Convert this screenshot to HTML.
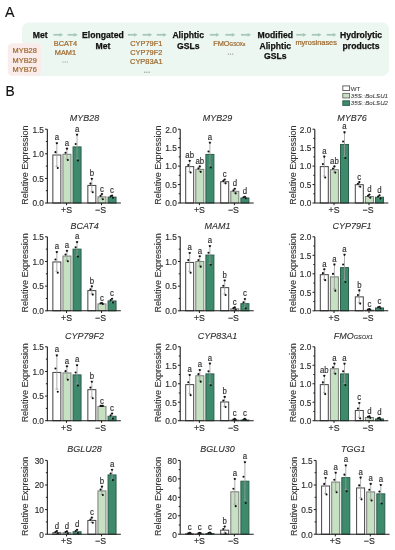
<!DOCTYPE html>
<html><head><meta charset="utf-8"><style>
html,body{margin:0;padding:0;background:#fff;}
body{width:395px;height:550px;overflow:hidden;}
svg{display:block;font-family:"Liberation Sans", sans-serif;will-change:transform;filter:blur(0.3px);}
</style></head><body>
<svg width="395" height="550" viewBox="0 0 395 550">
<text x="5.0" y="17.2" font-size="14.2" fill="#111" stroke="#111" stroke-width="0.15">A</text>
<rect x="22" y="22.5" width="367" height="53.5" rx="7" fill="#ecf7f1"/>
<rect x="7.8" y="43.2" width="33.4" height="32.5" rx="4.5" fill="#faeceb"/>
<text transform="translate(24.7 53) scale(1 1.06)" font-size="7.4" font-weight="normal" font-style="normal" fill="#a06a2e" text-anchor="middle" stroke="#a06a2e" stroke-width="0.22">MYB28</text>
<text transform="translate(24.7 62.7) scale(1 1.06)" font-size="7.4" font-weight="normal" font-style="normal" fill="#a06a2e" text-anchor="middle" stroke="#a06a2e" stroke-width="0.22">MYB29</text>
<text transform="translate(24.7 72.4) scale(1 1.06)" font-size="7.4" font-weight="normal" font-style="normal" fill="#a06a2e" text-anchor="middle" stroke="#a06a2e" stroke-width="0.22">MYB76</text>
<text x="40.2" y="37.9" font-size="8.65" font-weight="bold" font-style="normal" fill="#111" text-anchor="middle" stroke="#111" stroke-width="0.25">Met</text>
<text x="102.9" y="37.9" font-size="8.65" font-weight="bold" font-style="normal" fill="#111" text-anchor="middle" stroke="#111" stroke-width="0.25">Elongated</text>
<text x="102.9" y="48.55" font-size="8.65" font-weight="bold" font-style="normal" fill="#111" text-anchor="middle" stroke="#111" stroke-width="0.25">Met</text>
<text x="188.2" y="37.9" font-size="8.65" font-weight="bold" font-style="normal" fill="#111" text-anchor="middle" stroke="#111" stroke-width="0.25">Aliphtic</text>
<text x="188.2" y="48.55" font-size="8.65" font-weight="bold" font-style="normal" fill="#111" text-anchor="middle" stroke="#111" stroke-width="0.25">GSLs</text>
<text x="275.3" y="37.9" font-size="8.65" font-weight="bold" font-style="normal" fill="#111" text-anchor="middle" stroke="#111" stroke-width="0.25">Modified</text>
<text x="275.3" y="48.55" font-size="8.65" font-weight="bold" font-style="normal" fill="#111" text-anchor="middle" stroke="#111" stroke-width="0.25">Aliphtic</text>
<text x="275.3" y="59.2" font-size="8.65" font-weight="bold" font-style="normal" fill="#111" text-anchor="middle" stroke="#111" stroke-width="0.25">GSLs</text>
<text x="361" y="37.9" font-size="8.65" font-weight="bold" font-style="normal" fill="#111" text-anchor="middle" stroke="#111" stroke-width="0.25">Hydrolytic</text>
<text x="361" y="48.55" font-size="8.65" font-weight="bold" font-style="normal" fill="#111" text-anchor="middle" stroke="#111" stroke-width="0.25">products</text>
<path d="M53.4 34.8 H60.4" stroke="#a6c7b6" stroke-width="1.7"/>
<path d="M59.6 32.9 L63.2 34.8 L59.6 36.7 Z" fill="#a6c7b6"/>
<path d="M67.7 34.8 H75" stroke="#a6c7b6" stroke-width="1.7"/>
<path d="M74.2 32.9 L77.8 34.8 L74.2 36.7 Z" fill="#a6c7b6"/>
<path d="M127.8 34.8 H134.9" stroke="#a6c7b6" stroke-width="1.7"/>
<path d="M134.1 32.9 L137.7 34.8 L134.1 36.7 Z" fill="#a6c7b6"/>
<path d="M142.5 34.8 H149.5" stroke="#a6c7b6" stroke-width="1.7"/>
<path d="M148.7 32.9 L152.3 34.8 L148.7 36.7 Z" fill="#a6c7b6"/>
<path d="M156.7 34.8 H164" stroke="#a6c7b6" stroke-width="1.7"/>
<path d="M163.2 32.9 L166.8 34.8 L163.2 36.7 Z" fill="#a6c7b6"/>
<path d="M209.8 34.8 H216.8" stroke="#a6c7b6" stroke-width="1.7"/>
<path d="M216 32.9 L219.6 34.8 L216 36.7 Z" fill="#a6c7b6"/>
<path d="M225.3 34.8 H232.6" stroke="#a6c7b6" stroke-width="1.7"/>
<path d="M231.8 32.9 L235.4 34.8 L231.8 36.7 Z" fill="#a6c7b6"/>
<path d="M241 34.8 H248.4" stroke="#a6c7b6" stroke-width="1.7"/>
<path d="M247.6 32.9 L251.2 34.8 L247.6 36.7 Z" fill="#a6c7b6"/>
<path d="M296.3 34.8 H303.7" stroke="#a6c7b6" stroke-width="1.7"/>
<path d="M302.9 32.9 L306.5 34.8 L302.9 36.7 Z" fill="#a6c7b6"/>
<path d="M311.8 34.8 H318.8" stroke="#a6c7b6" stroke-width="1.7"/>
<path d="M318 32.9 L321.6 34.8 L318 36.7 Z" fill="#a6c7b6"/>
<path d="M326.7 34.8 H333.8" stroke="#a6c7b6" stroke-width="1.7"/>
<path d="M333 32.9 L336.6 34.8 L333 36.7 Z" fill="#a6c7b6"/>
<text transform="translate(65.4 46) scale(1 1.06)" font-size="7.4" font-weight="normal" font-style="normal" fill="#a06a2e" text-anchor="middle" stroke="#a06a2e" stroke-width="0.22">BCAT4</text>
<text transform="translate(65.4 54.9) scale(1 1.06)" font-size="7.4" font-weight="normal" font-style="normal" fill="#a06a2e" text-anchor="middle" stroke="#a06a2e" stroke-width="0.22">MAM1</text>
<circle cx="62.9" cy="62" r="0.62" fill="#8c8c7a"/>
<circle cx="65.1" cy="62" r="0.62" fill="#8c8c7a"/>
<circle cx="67.3" cy="62" r="0.62" fill="#8c8c7a"/>
<text transform="translate(146.3 46) scale(1 1.06)" font-size="7.4" font-weight="normal" font-style="normal" fill="#a06a2e" text-anchor="middle" stroke="#a06a2e" stroke-width="0.22">CYP79F1</text>
<text transform="translate(146.3 54.75) scale(1 1.06)" font-size="7.4" font-weight="normal" font-style="normal" fill="#a06a2e" text-anchor="middle" stroke="#a06a2e" stroke-width="0.22">CYP79F2</text>
<text transform="translate(146.3 63.5) scale(1 1.06)" font-size="7.4" font-weight="normal" font-style="normal" fill="#a06a2e" text-anchor="middle" stroke="#a06a2e" stroke-width="0.22">CYP83A1</text>
<circle cx="144.7" cy="72.2" r="0.62" fill="#8c8c7a"/>
<circle cx="146.9" cy="72.2" r="0.62" fill="#8c8c7a"/>
<circle cx="149.1" cy="72.2" r="0.62" fill="#8c8c7a"/>
<text transform="translate(213.2 46) scale(1 1.06)" font-size="7.4" fill="#a06a2e" stroke="#a06a2e" stroke-width="0.22">FMO<tspan font-size="4.6" dy="0">GSOXs</tspan></text>
<circle cx="228.3" cy="54.1" r="0.62" fill="#8c8c7a"/>
<circle cx="230.5" cy="54.1" r="0.62" fill="#8c8c7a"/>
<circle cx="232.7" cy="54.1" r="0.62" fill="#8c8c7a"/>
<text transform="translate(316.2 44.9) scale(1 1.06)" font-size="7.4" font-weight="normal" font-style="normal" fill="#a06a2e" text-anchor="middle" stroke="#a06a2e" stroke-width="0.22">myrosinases</text>
<text x="5.4" y="96.2" font-size="13.8" fill="#111" stroke="#111" stroke-width="0.15">B</text>
<rect x="342.8" y="85.9" width="6.8" height="4.6" fill="#ffffff" stroke="#555555" stroke-width="0.9"/>
<text x="350.8" y="90.5" font-size="6.15" font-style="normal" fill="#3a3a3a" stroke="#3a3a3a" stroke-width="0.08">WT</text>
<rect x="342.8" y="93.35" width="6.8" height="4.6" fill="#c6e0c2" stroke="#6a6a6a" stroke-width="0.9"/>
<text x="350.8" y="97.95" font-size="6.15" font-style="italic" fill="#3a3a3a" stroke="#3a3a3a" stroke-width="0.08">35S<tspan fill="#9a9a9a">::</tspan>BoLSU1</text>
<rect x="342.8" y="100.8" width="6.8" height="4.6" fill="#3d8a6c" stroke="#2a5e4a" stroke-width="0.9"/>
<text x="350.8" y="105.4" font-size="6.15" font-style="italic" fill="#3a3a3a" stroke="#3a3a3a" stroke-width="0.08">35S<tspan fill="#9a9a9a">::</tspan>BoLSU2</text>
<g><text transform="translate(28.45 165.1) scale(1 1.02) rotate(-90)" font-size="8.8" font-style="normal" fill="#333" stroke="#333" stroke-width="0.12" text-anchor="middle">Relative Expression</text><text transform="translate(84.55 121.2) scale(1 1.03)" font-size="9.0" font-style="italic" fill="#2c2c2c" stroke="#2c2c2c" stroke-width="0.1" text-anchor="middle">MYB28</text><rect x="52.85" y="154.99" width="8" height="48.01" fill="#ffffff" stroke="#444444" stroke-width="1"/><path d="M56.85 142.68 V166.3 M55.45 142.68 H58.25 M55.45 166.3 H58.25" stroke="#999" stroke-width="0.8"/><circle cx="56.85" cy="143.27" r="1.05" fill="#111"/><circle cx="55.45" cy="152.13" r="1.05" fill="#111"/><circle cx="57.75" cy="168.07" r="1.05" fill="#111"/><text transform="translate(56.85 140.28) scale(1 1.14)" font-size="7.8" font-style="normal" fill="#2e2e2e" stroke="#2e2e2e" stroke-width="0.15" text-anchor="middle">a</text><rect x="62.95" y="154.3" width="8" height="48.7" fill="#c6e0c2" stroke="#7c7c7c" stroke-width="1"/><path d="M66.95 148.39 V159.21 M65.55 148.39 H68.35 M65.55 159.21 H68.35" stroke="#999" stroke-width="0.8"/><circle cx="66.95" cy="148.66" r="1.05" fill="#111"/><circle cx="65.55" cy="152.72" r="1.05" fill="#111"/><circle cx="67.85" cy="160.02" r="1.05" fill="#111"/><text transform="translate(66.95 145.99) scale(1 1.14)" font-size="7.8" font-style="normal" fill="#2e2e2e" stroke="#2e2e2e" stroke-width="0.15" text-anchor="middle">a</text><rect x="73.05" y="146.92" width="8" height="56.08" fill="#3d8a6c" stroke="#2a5f4a" stroke-width="1"/><path d="M77.05 134.12 V158.72 M75.65 134.12 H78.45 M75.65 158.72 H78.45" stroke="#999" stroke-width="0.8"/><circle cx="77.05" cy="134.73" r="1.05" fill="#111"/><circle cx="75.65" cy="143.96" r="1.05" fill="#111"/><circle cx="77.95" cy="160.56" r="1.05" fill="#111"/><text transform="translate(77.05 131.72) scale(1 1.14)" font-size="7.8" font-style="normal" fill="#2e2e2e" stroke="#2e2e2e" stroke-width="0.15" text-anchor="middle">a</text><rect x="87.85" y="185.44" width="8" height="17.56" fill="#ffffff" stroke="#444444" stroke-width="1"/><path d="M91.85 178.55 V191.34 M90.45 178.55 H93.25 M90.45 191.34 H93.25" stroke="#999" stroke-width="0.8"/><circle cx="91.85" cy="178.87" r="1.05" fill="#111"/><circle cx="90.45" cy="183.66" r="1.05" fill="#111"/><circle cx="92.75" cy="192.3" r="1.05" fill="#111"/><text transform="translate(91.85 176.15) scale(1 1.14)" font-size="7.8" font-style="normal" fill="#2e2e2e" stroke="#2e2e2e" stroke-width="0.15" text-anchor="middle">b</text><rect x="97.95" y="196.86" width="8" height="6.14" fill="#c6e0c2" stroke="#7c7c7c" stroke-width="1"/><path d="M101.95 193.9 V198.82 M100.55 193.9 H103.35 M100.55 198.82 H103.35" stroke="#999" stroke-width="0.8"/><circle cx="101.95" cy="194.02" r="1.05" fill="#111"/><circle cx="100.55" cy="195.87" r="1.05" fill="#111"/><circle cx="102.85" cy="199.19" r="1.05" fill="#111"/><text transform="translate(101.95 191.5) scale(1 1.14)" font-size="7.8" font-style="normal" fill="#2e2e2e" stroke="#2e2e2e" stroke-width="0.15" text-anchor="middle">c</text><rect x="108.05" y="197.1" width="8" height="5.9" fill="#3d8a6c" stroke="#2a5f4a" stroke-width="1"/><path d="M112.05 195.62 V197.59 M110.65 195.62 H113.45 M110.65 197.59 H113.45" stroke="#999" stroke-width="0.8"/><circle cx="112.05" cy="195.67" r="1.05" fill="#111"/><circle cx="110.65" cy="196.41" r="1.05" fill="#111"/><circle cx="112.95" cy="197.74" r="1.05" fill="#111"/><text transform="translate(112.05 193.22) scale(1 1.14)" font-size="7.8" font-style="normal" fill="#2e2e2e" stroke="#2e2e2e" stroke-width="0.15" text-anchor="middle">c</text><path d="M47.35 129.2 V203 H120.85" stroke="#1e1e1e" stroke-width="1.1" fill="none"/><path d="M45.05 203 H47.35" stroke="#1e1e1e" stroke-width="1"/><text transform="translate(43.95 206.3) scale(1 1.0)" font-size="8.3" font-style="normal" fill="#2c2c2c" stroke="#2c2c2c" stroke-width="0.15" text-anchor="end">0.0</text><path d="M45.85 190.7 H47.35" stroke="#1e1e1e" stroke-width="1"/><path d="M45.05 178.4 H47.35" stroke="#1e1e1e" stroke-width="1"/><text transform="translate(43.95 181.7) scale(1 1.0)" font-size="8.3" font-style="normal" fill="#2c2c2c" stroke="#2c2c2c" stroke-width="0.15" text-anchor="end">0.5</text><path d="M45.85 166.1 H47.35" stroke="#1e1e1e" stroke-width="1"/><path d="M45.05 153.8 H47.35" stroke="#1e1e1e" stroke-width="1"/><text transform="translate(43.95 157.1) scale(1 1.0)" font-size="8.3" font-style="normal" fill="#2c2c2c" stroke="#2c2c2c" stroke-width="0.15" text-anchor="end">1.0</text><path d="M45.85 141.5 H47.35" stroke="#1e1e1e" stroke-width="1"/><path d="M45.05 129.2 H47.35" stroke="#1e1e1e" stroke-width="1"/><text transform="translate(43.95 132.5) scale(1 1.0)" font-size="8.3" font-style="normal" fill="#2c2c2c" stroke="#2c2c2c" stroke-width="0.15" text-anchor="end">1.5</text><path d="M66.55 203 V205.2" stroke="#1e1e1e" stroke-width="1"/><text transform="translate(66.55 213) scale(1 1.02)" font-size="8.8" font-style="normal" fill="#2c2c2c" stroke="#2c2c2c" stroke-width="0.15" text-anchor="middle">+S</text><path d="M101.55 203 V205.2" stroke="#1e1e1e" stroke-width="1"/><text transform="translate(100.55 213) scale(1 1.02)" font-size="8.8" font-style="normal" fill="#2c2c2c" stroke="#2c2c2c" stroke-width="0.15" text-anchor="middle">−S</text></g>
<g><text transform="translate(160.9 165.1) scale(1 1.02) rotate(-90)" font-size="8.8" font-style="normal" fill="#333" stroke="#333" stroke-width="0.12" text-anchor="middle">Relative Expression</text><text transform="translate(217.4 121.2) scale(1 1.03)" font-size="9.0" font-style="italic" fill="#2c2c2c" stroke="#2c2c2c" stroke-width="0.1" text-anchor="middle">MYB29</text><rect x="185.7" y="166.6" width="8" height="36.4" fill="#ffffff" stroke="#444444" stroke-width="1"/><path d="M189.7 160.56 V171.63 M188.3 160.56 H191.1 M188.3 171.63 H191.1" stroke="#999" stroke-width="0.8"/><circle cx="189.7" cy="160.84" r="1.05" fill="#111"/><circle cx="188.3" cy="164.99" r="1.05" fill="#111"/><circle cx="190.6" cy="172.47" r="1.05" fill="#111"/><text transform="translate(189.7 158.16) scale(1 1.14)" font-size="7.8" font-style="normal" fill="#2e2e2e" stroke="#2e2e2e" stroke-width="0.15" text-anchor="middle">ab</text><rect x="195.8" y="169.37" width="8" height="33.63" fill="#c6e0c2" stroke="#7c7c7c" stroke-width="1"/><path d="M199.8 166.28 V171.45 M198.4 166.28 H201.2 M198.4 171.45 H201.2" stroke="#999" stroke-width="0.8"/><circle cx="199.8" cy="166.41" r="1.05" fill="#111"/><circle cx="198.4" cy="168.35" r="1.05" fill="#111"/><circle cx="200.7" cy="171.84" r="1.05" fill="#111"/><text transform="translate(199.8 163.88) scale(1 1.14)" font-size="7.8" font-style="normal" fill="#2e2e2e" stroke="#2e2e2e" stroke-width="0.15" text-anchor="middle">ab</text><rect x="205.9" y="154.42" width="8" height="48.58" fill="#3d8a6c" stroke="#2a5f4a" stroke-width="1"/><path d="M209.9 142.11 V165.73 M208.5 142.11 H211.3 M208.5 165.73 H211.3" stroke="#999" stroke-width="0.8"/><circle cx="209.9" cy="142.71" r="1.05" fill="#111"/><circle cx="208.5" cy="151.56" r="1.05" fill="#111"/><circle cx="210.8" cy="167.5" r="1.05" fill="#111"/><text transform="translate(209.9 139.71) scale(1 1.14)" font-size="7.8" font-style="normal" fill="#2e2e2e" stroke="#2e2e2e" stroke-width="0.15" text-anchor="middle">a</text><rect x="220.7" y="181.73" width="8" height="21.27" fill="#ffffff" stroke="#444444" stroke-width="1"/><path d="M224.7 179.38 V183.07 M223.3 179.38 H226.1 M223.3 183.07 H226.1" stroke="#999" stroke-width="0.8"/><circle cx="224.7" cy="179.48" r="1.05" fill="#111"/><circle cx="223.3" cy="180.86" r="1.05" fill="#111"/><circle cx="225.6" cy="183.35" r="1.05" fill="#111"/><text transform="translate(224.7 176.98) scale(1 1.14)" font-size="7.8" font-style="normal" fill="#2e2e2e" stroke="#2e2e2e" stroke-width="0.15" text-anchor="middle">c</text><rect x="230.8" y="191.32" width="8" height="11.68" fill="#c6e0c2" stroke="#7c7c7c" stroke-width="1"/><path d="M234.8 188.61 V193.04 M233.4 188.61 H236.2 M233.4 193.04 H236.2" stroke="#999" stroke-width="0.8"/><circle cx="234.8" cy="188.72" r="1.05" fill="#111"/><circle cx="233.4" cy="190.38" r="1.05" fill="#111"/><circle cx="235.7" cy="193.37" r="1.05" fill="#111"/><text transform="translate(234.8 186.21) scale(1 1.14)" font-size="7.8" font-style="normal" fill="#2e2e2e" stroke="#2e2e2e" stroke-width="0.15" text-anchor="middle">d</text><rect x="240.9" y="197.97" width="8" height="5.03" fill="#3d8a6c" stroke="#2a5f4a" stroke-width="1"/><path d="M244.9 196.73 V198.2 M243.5 196.73 H246.3 M243.5 198.2 H246.3" stroke="#999" stroke-width="0.8"/><circle cx="244.9" cy="196.76" r="1.05" fill="#111"/><circle cx="243.5" cy="197.32" r="1.05" fill="#111"/><circle cx="245.8" cy="198.31" r="1.05" fill="#111"/><text transform="translate(244.9 194.33) scale(1 1.14)" font-size="7.8" font-style="normal" fill="#2e2e2e" stroke="#2e2e2e" stroke-width="0.15" text-anchor="middle">d</text><path d="M180.2 129.2 V203 H253.7" stroke="#1e1e1e" stroke-width="1.1" fill="none"/><path d="M177.9 203 H180.2" stroke="#1e1e1e" stroke-width="1"/><text transform="translate(176.8 206.3) scale(1 1.0)" font-size="8.3" font-style="normal" fill="#2c2c2c" stroke="#2c2c2c" stroke-width="0.15" text-anchor="end">0.0</text><path d="M178.7 193.78 H180.2" stroke="#1e1e1e" stroke-width="1"/><path d="M177.9 184.55 H180.2" stroke="#1e1e1e" stroke-width="1"/><text transform="translate(176.8 187.85) scale(1 1.0)" font-size="8.3" font-style="normal" fill="#2c2c2c" stroke="#2c2c2c" stroke-width="0.15" text-anchor="end">0.5</text><path d="M178.7 175.32 H180.2" stroke="#1e1e1e" stroke-width="1"/><path d="M177.9 166.1 H180.2" stroke="#1e1e1e" stroke-width="1"/><text transform="translate(176.8 169.4) scale(1 1.0)" font-size="8.3" font-style="normal" fill="#2c2c2c" stroke="#2c2c2c" stroke-width="0.15" text-anchor="end">1.0</text><path d="M178.7 156.88 H180.2" stroke="#1e1e1e" stroke-width="1"/><path d="M177.9 147.65 H180.2" stroke="#1e1e1e" stroke-width="1"/><text transform="translate(176.8 150.95) scale(1 1.0)" font-size="8.3" font-style="normal" fill="#2c2c2c" stroke="#2c2c2c" stroke-width="0.15" text-anchor="end">1.5</text><path d="M178.7 138.42 H180.2" stroke="#1e1e1e" stroke-width="1"/><path d="M177.9 129.2 H180.2" stroke="#1e1e1e" stroke-width="1"/><text transform="translate(176.8 132.5) scale(1 1.0)" font-size="8.3" font-style="normal" fill="#2c2c2c" stroke="#2c2c2c" stroke-width="0.15" text-anchor="end">2.0</text><path d="M199.4 203 V205.2" stroke="#1e1e1e" stroke-width="1"/><text transform="translate(199.4 213) scale(1 1.02)" font-size="8.8" font-style="normal" fill="#2c2c2c" stroke="#2c2c2c" stroke-width="0.15" text-anchor="middle">+S</text><path d="M234.4 203 V205.2" stroke="#1e1e1e" stroke-width="1"/><text transform="translate(233.4 213) scale(1 1.02)" font-size="8.8" font-style="normal" fill="#2c2c2c" stroke="#2c2c2c" stroke-width="0.15" text-anchor="middle">−S</text></g>
<g><text transform="translate(295.5 165.1) scale(1 1.02) rotate(-90)" font-size="8.8" font-style="normal" fill="#333" stroke="#333" stroke-width="0.12" text-anchor="middle">Relative Expression</text><text transform="translate(352 121.2) scale(1 1.03)" font-size="9.0" font-style="italic" fill="#2c2c2c" stroke="#2c2c2c" stroke-width="0.1" text-anchor="middle">MYB76</text><rect x="320.3" y="166.6" width="8" height="36.4" fill="#ffffff" stroke="#444444" stroke-width="1"/><path d="M324.3 156.14 V176.06 M322.9 156.14 H325.7 M322.9 176.06 H325.7" stroke="#999" stroke-width="0.8"/><circle cx="324.3" cy="156.64" r="1.05" fill="#111"/><circle cx="322.9" cy="164.11" r="1.05" fill="#111"/><circle cx="325.2" cy="177.56" r="1.05" fill="#111"/><text transform="translate(324.3 153.74) scale(1 1.14)" font-size="7.8" font-style="normal" fill="#2e2e2e" stroke="#2e2e2e" stroke-width="0.15" text-anchor="middle">a</text><rect x="330.4" y="169.7" width="8" height="33.3" fill="#c6e0c2" stroke="#7c7c7c" stroke-width="1"/><path d="M334.4 166.25 V172.15 M333 166.25 H335.8 M333 172.15 H335.8" stroke="#999" stroke-width="0.8"/><circle cx="334.4" cy="166.4" r="1.05" fill="#111"/><circle cx="333" cy="168.61" r="1.05" fill="#111"/><circle cx="335.3" cy="172.59" r="1.05" fill="#111"/><text transform="translate(334.4 163.85) scale(1 1.14)" font-size="7.8" font-style="normal" fill="#2e2e2e" stroke="#2e2e2e" stroke-width="0.15" text-anchor="middle">ab</text><rect x="340.5" y="144.46" width="8" height="58.54" fill="#3d8a6c" stroke="#2a5f4a" stroke-width="1"/><path d="M344.5 131.78 V156.14 M343.1 131.78 H345.9 M343.1 156.14 H345.9" stroke="#999" stroke-width="0.8"/><circle cx="344.5" cy="132.39" r="1.05" fill="#111"/><circle cx="343.1" cy="141.52" r="1.05" fill="#111"/><circle cx="345.4" cy="157.96" r="1.05" fill="#111"/><text transform="translate(344.5 129.38) scale(1 1.14)" font-size="7.8" font-style="normal" fill="#2e2e2e" stroke="#2e2e2e" stroke-width="0.15" text-anchor="middle">a</text><rect x="355.3" y="184.68" width="8" height="18.32" fill="#ffffff" stroke="#444444" stroke-width="1"/><path d="M359.3 181.97 V186.39 M357.9 181.97 H360.7 M357.9 186.39 H360.7" stroke="#999" stroke-width="0.8"/><circle cx="359.3" cy="182.08" r="1.05" fill="#111"/><circle cx="357.9" cy="183.74" r="1.05" fill="#111"/><circle cx="360.2" cy="186.73" r="1.05" fill="#111"/><text transform="translate(359.3 179.57) scale(1 1.14)" font-size="7.8" font-style="normal" fill="#2e2e2e" stroke="#2e2e2e" stroke-width="0.15" text-anchor="middle">c</text><rect x="365.4" y="196.49" width="8" height="6.51" fill="#c6e0c2" stroke="#7c7c7c" stroke-width="1"/><path d="M369.4 194.51 V197.47 M368 194.51 H370.8 M368 197.47 H370.8" stroke="#999" stroke-width="0.8"/><circle cx="369.4" cy="194.59" r="1.05" fill="#111"/><circle cx="368" cy="195.69" r="1.05" fill="#111"/><circle cx="370.3" cy="197.69" r="1.05" fill="#111"/><text transform="translate(369.4 192.11) scale(1 1.14)" font-size="7.8" font-style="normal" fill="#2e2e2e" stroke="#2e2e2e" stroke-width="0.15" text-anchor="middle">d</text><rect x="375.5" y="197.23" width="8" height="5.77" fill="#3d8a6c" stroke="#2a5f4a" stroke-width="1"/><path d="M379.5 195.25 V198.2 M378.1 195.25 H380.9 M378.1 198.2 H380.9" stroke="#999" stroke-width="0.8"/><circle cx="379.5" cy="195.32" r="1.05" fill="#111"/><circle cx="378.1" cy="196.43" r="1.05" fill="#111"/><circle cx="380.4" cy="198.42" r="1.05" fill="#111"/><text transform="translate(379.5 192.85) scale(1 1.14)" font-size="7.8" font-style="normal" fill="#2e2e2e" stroke="#2e2e2e" stroke-width="0.15" text-anchor="middle">d</text><path d="M314.8 129.2 V203 H388.3" stroke="#1e1e1e" stroke-width="1.1" fill="none"/><path d="M312.5 203 H314.8" stroke="#1e1e1e" stroke-width="1"/><text transform="translate(311.4 206.3) scale(1 1.0)" font-size="8.3" font-style="normal" fill="#2c2c2c" stroke="#2c2c2c" stroke-width="0.15" text-anchor="end">0.0</text><path d="M313.3 193.78 H314.8" stroke="#1e1e1e" stroke-width="1"/><path d="M312.5 184.55 H314.8" stroke="#1e1e1e" stroke-width="1"/><text transform="translate(311.4 187.85) scale(1 1.0)" font-size="8.3" font-style="normal" fill="#2c2c2c" stroke="#2c2c2c" stroke-width="0.15" text-anchor="end">0.5</text><path d="M313.3 175.32 H314.8" stroke="#1e1e1e" stroke-width="1"/><path d="M312.5 166.1 H314.8" stroke="#1e1e1e" stroke-width="1"/><text transform="translate(311.4 169.4) scale(1 1.0)" font-size="8.3" font-style="normal" fill="#2c2c2c" stroke="#2c2c2c" stroke-width="0.15" text-anchor="end">1.0</text><path d="M313.3 156.88 H314.8" stroke="#1e1e1e" stroke-width="1"/><path d="M312.5 147.65 H314.8" stroke="#1e1e1e" stroke-width="1"/><text transform="translate(311.4 150.95) scale(1 1.0)" font-size="8.3" font-style="normal" fill="#2c2c2c" stroke="#2c2c2c" stroke-width="0.15" text-anchor="end">1.5</text><path d="M313.3 138.42 H314.8" stroke="#1e1e1e" stroke-width="1"/><path d="M312.5 129.2 H314.8" stroke="#1e1e1e" stroke-width="1"/><text transform="translate(311.4 132.5) scale(1 1.0)" font-size="8.3" font-style="normal" fill="#2c2c2c" stroke="#2c2c2c" stroke-width="0.15" text-anchor="end">2.0</text><path d="M334 203 V205.2" stroke="#1e1e1e" stroke-width="1"/><text transform="translate(334 213) scale(1 1.02)" font-size="8.8" font-style="normal" fill="#2c2c2c" stroke="#2c2c2c" stroke-width="0.15" text-anchor="middle">+S</text><path d="M369 203 V205.2" stroke="#1e1e1e" stroke-width="1"/><text transform="translate(368 213) scale(1 1.02)" font-size="8.8" font-style="normal" fill="#2c2c2c" stroke="#2c2c2c" stroke-width="0.15" text-anchor="middle">−S</text></g>
<g><text transform="translate(28.45 272.8) scale(1 1.02) rotate(-90)" font-size="8.8" font-style="normal" fill="#333" stroke="#333" stroke-width="0.12" text-anchor="middle">Relative Expression</text><text transform="translate(84.55 228.8) scale(1 1.03)" font-size="9.0" font-style="italic" fill="#2c2c2c" stroke="#2c2c2c" stroke-width="0.1" text-anchor="middle">BCAT4</text><rect x="52.85" y="261.97" width="8" height="48.83" fill="#ffffff" stroke="#444444" stroke-width="1"/><path d="M56.85 251.6 V271.33 M55.45 251.6 H58.25 M55.45 271.33 H58.25" stroke="#999" stroke-width="0.8"/><circle cx="56.85" cy="252.09" r="1.05" fill="#111"/><circle cx="55.45" cy="259.49" r="1.05" fill="#111"/><circle cx="57.75" cy="272.81" r="1.05" fill="#111"/><text transform="translate(56.85 249.2) scale(1 1.14)" font-size="7.8" font-style="normal" fill="#2e2e2e" stroke="#2e2e2e" stroke-width="0.15" text-anchor="middle">a</text><rect x="62.95" y="256.05" width="8" height="54.75" fill="#c6e0c2" stroke="#7c7c7c" stroke-width="1"/><path d="M66.95 250.61 V260.48 M65.55 250.61 H68.35 M65.55 260.48 H68.35" stroke="#999" stroke-width="0.8"/><circle cx="66.95" cy="250.86" r="1.05" fill="#111"/><circle cx="65.55" cy="254.56" r="1.05" fill="#111"/><circle cx="67.85" cy="261.22" r="1.05" fill="#111"/><text transform="translate(66.95 248.21) scale(1 1.14)" font-size="7.8" font-style="normal" fill="#2e2e2e" stroke="#2e2e2e" stroke-width="0.15" text-anchor="middle">a</text><rect x="73.05" y="249.14" width="8" height="61.66" fill="#3d8a6c" stroke="#2a5f4a" stroke-width="1"/><path d="M77.05 241.73 V255.55 M75.65 241.73 H78.45 M75.65 255.55 H78.45" stroke="#999" stroke-width="0.8"/><circle cx="77.05" cy="242.08" r="1.05" fill="#111"/><circle cx="75.65" cy="247.26" r="1.05" fill="#111"/><circle cx="77.95" cy="256.58" r="1.05" fill="#111"/><text transform="translate(77.05 239.33) scale(1 1.14)" font-size="7.8" font-style="normal" fill="#2e2e2e" stroke="#2e2e2e" stroke-width="0.15" text-anchor="middle">a</text><rect x="87.85" y="290.58" width="8" height="20.22" fill="#ffffff" stroke="#444444" stroke-width="1"/><path d="M91.85 286.13 V294.03 M90.45 286.13 H93.25 M90.45 294.03 H93.25" stroke="#999" stroke-width="0.8"/><circle cx="91.85" cy="286.33" r="1.05" fill="#111"/><circle cx="90.45" cy="289.29" r="1.05" fill="#111"/><circle cx="92.75" cy="294.62" r="1.05" fill="#111"/><text transform="translate(91.85 283.73) scale(1 1.14)" font-size="7.8" font-style="normal" fill="#2e2e2e" stroke="#2e2e2e" stroke-width="0.15" text-anchor="middle">b</text><rect x="97.95" y="303.9" width="8" height="6.9" fill="#c6e0c2" stroke="#7c7c7c" stroke-width="1"/><path d="M101.95 302.91 V303.89 M100.55 302.91 H103.35 M100.55 303.89 H103.35" stroke="#999" stroke-width="0.8"/><circle cx="101.95" cy="302.93" r="1.05" fill="#111"/><circle cx="100.55" cy="303.3" r="1.05" fill="#111"/><circle cx="102.85" cy="303.97" r="1.05" fill="#111"/><text transform="translate(101.95 300.51) scale(1 1.14)" font-size="7.8" font-style="normal" fill="#2e2e2e" stroke="#2e2e2e" stroke-width="0.15" text-anchor="middle">c</text><rect x="108.05" y="300.94" width="8" height="9.86" fill="#3d8a6c" stroke="#2a5f4a" stroke-width="1"/><path d="M112.05 298.71 V302.17 M110.65 298.71 H113.45 M110.65 302.17 H113.45" stroke="#999" stroke-width="0.8"/><circle cx="112.05" cy="298.8" r="1.05" fill="#111"/><circle cx="110.65" cy="300.09" r="1.05" fill="#111"/><circle cx="112.95" cy="302.43" r="1.05" fill="#111"/><text transform="translate(112.05 296.31) scale(1 1.14)" font-size="7.8" font-style="normal" fill="#2e2e2e" stroke="#2e2e2e" stroke-width="0.15" text-anchor="middle">c</text><path d="M47.35 236.8 V310.8 H120.85" stroke="#1e1e1e" stroke-width="1.1" fill="none"/><path d="M45.05 310.8 H47.35" stroke="#1e1e1e" stroke-width="1"/><text transform="translate(43.95 314.1) scale(1 1.0)" font-size="8.3" font-style="normal" fill="#2c2c2c" stroke="#2c2c2c" stroke-width="0.15" text-anchor="end">0.0</text><path d="M45.85 298.47 H47.35" stroke="#1e1e1e" stroke-width="1"/><path d="M45.05 286.13 H47.35" stroke="#1e1e1e" stroke-width="1"/><text transform="translate(43.95 289.43) scale(1 1.0)" font-size="8.3" font-style="normal" fill="#2c2c2c" stroke="#2c2c2c" stroke-width="0.15" text-anchor="end">0.5</text><path d="M45.85 273.8 H47.35" stroke="#1e1e1e" stroke-width="1"/><path d="M45.05 261.47 H47.35" stroke="#1e1e1e" stroke-width="1"/><text transform="translate(43.95 264.77) scale(1 1.0)" font-size="8.3" font-style="normal" fill="#2c2c2c" stroke="#2c2c2c" stroke-width="0.15" text-anchor="end">1.0</text><path d="M45.85 249.13 H47.35" stroke="#1e1e1e" stroke-width="1"/><path d="M45.05 236.8 H47.35" stroke="#1e1e1e" stroke-width="1"/><text transform="translate(43.95 240.1) scale(1 1.0)" font-size="8.3" font-style="normal" fill="#2c2c2c" stroke="#2c2c2c" stroke-width="0.15" text-anchor="end">1.5</text><path d="M66.55 310.8 V313" stroke="#1e1e1e" stroke-width="1"/><text transform="translate(66.55 320.8) scale(1 1.02)" font-size="8.8" font-style="normal" fill="#2c2c2c" stroke="#2c2c2c" stroke-width="0.15" text-anchor="middle">+S</text><path d="M101.55 310.8 V313" stroke="#1e1e1e" stroke-width="1"/><text transform="translate(100.55 320.8) scale(1 1.02)" font-size="8.8" font-style="normal" fill="#2c2c2c" stroke="#2c2c2c" stroke-width="0.15" text-anchor="middle">−S</text></g>
<g><text transform="translate(160.9 272.8) scale(1 1.02) rotate(-90)" font-size="8.8" font-style="normal" fill="#333" stroke="#333" stroke-width="0.12" text-anchor="middle">Relative Expression</text><text transform="translate(217.4 228.8) scale(1 1.03)" font-size="9.0" font-style="italic" fill="#2c2c2c" stroke="#2c2c2c" stroke-width="0.1" text-anchor="middle">MAM1</text><rect x="185.7" y="262.46" width="8" height="48.34" fill="#ffffff" stroke="#444444" stroke-width="1"/><path d="M189.7 252.59 V271.33 M188.3 252.59 H191.1 M188.3 271.33 H191.1" stroke="#999" stroke-width="0.8"/><circle cx="189.7" cy="253.06" r="1.05" fill="#111"/><circle cx="188.3" cy="260.09" r="1.05" fill="#111"/><circle cx="190.6" cy="272.74" r="1.05" fill="#111"/><text transform="translate(189.7 250.19) scale(1 1.14)" font-size="7.8" font-style="normal" fill="#2e2e2e" stroke="#2e2e2e" stroke-width="0.15" text-anchor="middle">a</text><rect x="195.8" y="261.47" width="8" height="49.33" fill="#c6e0c2" stroke="#7c7c7c" stroke-width="1"/><path d="M199.8 256.04 V265.91 M198.4 256.04 H201.2 M198.4 265.91 H201.2" stroke="#999" stroke-width="0.8"/><circle cx="199.8" cy="256.29" r="1.05" fill="#111"/><circle cx="198.4" cy="259.99" r="1.05" fill="#111"/><circle cx="200.7" cy="266.65" r="1.05" fill="#111"/><text transform="translate(199.8 253.64) scale(1 1.14)" font-size="7.8" font-style="normal" fill="#2e2e2e" stroke="#2e2e2e" stroke-width="0.15" text-anchor="middle">a</text><rect x="205.9" y="255.06" width="8" height="55.74" fill="#3d8a6c" stroke="#2a5f4a" stroke-width="1"/><path d="M209.9 245.68 V263.44 M208.5 245.68 H211.3 M208.5 263.44 H211.3" stroke="#999" stroke-width="0.8"/><circle cx="209.9" cy="246.12" r="1.05" fill="#111"/><circle cx="208.5" cy="252.78" r="1.05" fill="#111"/><circle cx="210.8" cy="264.77" r="1.05" fill="#111"/><text transform="translate(209.9 243.28) scale(1 1.14)" font-size="7.8" font-style="normal" fill="#2e2e2e" stroke="#2e2e2e" stroke-width="0.15" text-anchor="middle">a</text><rect x="220.7" y="287.62" width="8" height="23.18" fill="#ffffff" stroke="#444444" stroke-width="1"/><path d="M224.7 280.21 V294.03 M223.3 280.21 H226.1 M223.3 294.03 H226.1" stroke="#999" stroke-width="0.8"/><circle cx="224.7" cy="280.56" r="1.05" fill="#111"/><circle cx="223.3" cy="285.74" r="1.05" fill="#111"/><circle cx="225.6" cy="295.06" r="1.05" fill="#111"/><text transform="translate(224.7 277.81) scale(1 1.14)" font-size="7.8" font-style="normal" fill="#2e2e2e" stroke="#2e2e2e" stroke-width="0.15" text-anchor="middle">b</text><rect x="230.8" y="308.83" width="8" height="1.97" fill="#c6e0c2" stroke="#7c7c7c" stroke-width="1"/><path d="M234.8 307.35 V309.32 M233.4 307.35 H236.2 M233.4 309.32 H236.2" stroke="#999" stroke-width="0.8"/><circle cx="234.8" cy="307.4" r="1.05" fill="#111"/><circle cx="233.4" cy="308.14" r="1.05" fill="#111"/><circle cx="235.7" cy="309.47" r="1.05" fill="#111"/><text transform="translate(234.8 304.95) scale(1 1.14)" font-size="7.8" font-style="normal" fill="#2e2e2e" stroke="#2e2e2e" stroke-width="0.15" text-anchor="middle">c</text><rect x="240.9" y="303.65" width="8" height="7.15" fill="#3d8a6c" stroke="#2a5f4a" stroke-width="1"/><path d="M244.9 298.71 V307.59 M243.5 298.71 H246.3 M243.5 307.59 H246.3" stroke="#999" stroke-width="0.8"/><circle cx="244.9" cy="298.94" r="1.05" fill="#111"/><circle cx="243.5" cy="302.27" r="1.05" fill="#111"/><circle cx="245.8" cy="308.26" r="1.05" fill="#111"/><text transform="translate(244.9 296.31) scale(1 1.14)" font-size="7.8" font-style="normal" fill="#2e2e2e" stroke="#2e2e2e" stroke-width="0.15" text-anchor="middle">c</text><path d="M180.2 236.8 V310.8 H253.7" stroke="#1e1e1e" stroke-width="1.1" fill="none"/><path d="M177.9 310.8 H180.2" stroke="#1e1e1e" stroke-width="1"/><text transform="translate(176.8 314.1) scale(1 1.0)" font-size="8.3" font-style="normal" fill="#2c2c2c" stroke="#2c2c2c" stroke-width="0.15" text-anchor="end">0.0</text><path d="M178.7 298.47 H180.2" stroke="#1e1e1e" stroke-width="1"/><path d="M177.9 286.13 H180.2" stroke="#1e1e1e" stroke-width="1"/><text transform="translate(176.8 289.43) scale(1 1.0)" font-size="8.3" font-style="normal" fill="#2c2c2c" stroke="#2c2c2c" stroke-width="0.15" text-anchor="end">0.5</text><path d="M178.7 273.8 H180.2" stroke="#1e1e1e" stroke-width="1"/><path d="M177.9 261.47 H180.2" stroke="#1e1e1e" stroke-width="1"/><text transform="translate(176.8 264.77) scale(1 1.0)" font-size="8.3" font-style="normal" fill="#2c2c2c" stroke="#2c2c2c" stroke-width="0.15" text-anchor="end">1.0</text><path d="M178.7 249.13 H180.2" stroke="#1e1e1e" stroke-width="1"/><path d="M177.9 236.8 H180.2" stroke="#1e1e1e" stroke-width="1"/><text transform="translate(176.8 240.1) scale(1 1.0)" font-size="8.3" font-style="normal" fill="#2c2c2c" stroke="#2c2c2c" stroke-width="0.15" text-anchor="end">1.5</text><path d="M199.4 310.8 V313" stroke="#1e1e1e" stroke-width="1"/><text transform="translate(199.4 320.8) scale(1 1.02)" font-size="8.8" font-style="normal" fill="#2c2c2c" stroke="#2c2c2c" stroke-width="0.15" text-anchor="middle">+S</text><path d="M234.4 310.8 V313" stroke="#1e1e1e" stroke-width="1"/><text transform="translate(233.4 320.8) scale(1 1.02)" font-size="8.8" font-style="normal" fill="#2c2c2c" stroke="#2c2c2c" stroke-width="0.15" text-anchor="middle">−S</text></g>
<g><text transform="translate(295.5 272.8) scale(1 1.02) rotate(-90)" font-size="8.8" font-style="normal" fill="#333" stroke="#333" stroke-width="0.12" text-anchor="middle">Relative Expression</text><text transform="translate(352 228.8) scale(1 1.03)" font-size="9.0" font-style="italic" fill="#2c2c2c" stroke="#2c2c2c" stroke-width="0.1" text-anchor="middle">CYP79F1</text><rect x="320.3" y="274.67" width="8" height="36.13" fill="#ffffff" stroke="#444444" stroke-width="1"/><path d="M324.3 268.99 V279.35 M322.9 268.99 H325.7 M322.9 279.35 H325.7" stroke="#999" stroke-width="0.8"/><circle cx="324.3" cy="269.25" r="1.05" fill="#111"/><circle cx="322.9" cy="273.13" r="1.05" fill="#111"/><circle cx="325.2" cy="280.13" r="1.05" fill="#111"/><text transform="translate(324.3 266.59) scale(1 1.14)" font-size="7.8" font-style="normal" fill="#2e2e2e" stroke="#2e2e2e" stroke-width="0.15" text-anchor="middle">a</text><rect x="330.4" y="276.89" width="8" height="33.91" fill="#c6e0c2" stroke="#7c7c7c" stroke-width="1"/><path d="M334.4 264 V288.79 M333 264 H335.8 M333 288.79 H335.8" stroke="#999" stroke-width="0.8"/><circle cx="334.4" cy="264.61" r="1.05" fill="#111"/><circle cx="333" cy="273.91" r="1.05" fill="#111"/><circle cx="335.3" cy="290.64" r="1.05" fill="#111"/><text transform="translate(334.4 261.6) scale(1 1.14)" font-size="7.8" font-style="normal" fill="#2e2e2e" stroke="#2e2e2e" stroke-width="0.15" text-anchor="middle">a</text><rect x="340.5" y="267.64" width="8" height="43.16" fill="#3d8a6c" stroke="#2a5f4a" stroke-width="1"/><path d="M344.5 254.19 V280.09 M343.1 254.19 H345.9 M343.1 280.09 H345.9" stroke="#999" stroke-width="0.8"/><circle cx="344.5" cy="254.84" r="1.05" fill="#111"/><circle cx="343.1" cy="264.55" r="1.05" fill="#111"/><circle cx="345.4" cy="282.03" r="1.05" fill="#111"/><text transform="translate(344.5 251.79) scale(1 1.14)" font-size="7.8" font-style="normal" fill="#2e2e2e" stroke="#2e2e2e" stroke-width="0.15" text-anchor="middle">a</text><rect x="355.3" y="296.87" width="8" height="13.93" fill="#ffffff" stroke="#444444" stroke-width="1"/><path d="M359.3 290.08 V302.66 M357.9 290.08 H360.7 M357.9 302.66 H360.7" stroke="#999" stroke-width="0.8"/><circle cx="359.3" cy="290.39" r="1.05" fill="#111"/><circle cx="357.9" cy="295.11" r="1.05" fill="#111"/><circle cx="360.2" cy="303.6" r="1.05" fill="#111"/><text transform="translate(359.3 287.68) scale(1 1.14)" font-size="7.8" font-style="normal" fill="#2e2e2e" stroke="#2e2e2e" stroke-width="0.15" text-anchor="middle">b</text><rect x="365.4" y="310.19" width="8" height="0.61" fill="#c6e0c2" stroke="#7c7c7c" stroke-width="1"/><path d="M369.4 308.95 V310.43 M368 308.95 H370.8 M368 310.43 H370.8" stroke="#999" stroke-width="0.8"/><circle cx="369.4" cy="308.99" r="1.05" fill="#111"/><circle cx="368" cy="309.54" r="1.05" fill="#111"/><circle cx="370.3" cy="309.8" r="1.05" fill="#111"/><text transform="translate(369.4 306.55) scale(1 1.14)" font-size="7.8" font-style="normal" fill="#2e2e2e" stroke="#2e2e2e" stroke-width="0.15" text-anchor="middle">c</text><rect x="375.5" y="307.97" width="8" height="2.83" fill="#3d8a6c" stroke="#2a5f4a" stroke-width="1"/><path d="M379.5 306.73 V308.21 M378.1 306.73 H380.9 M378.1 308.21 H380.9" stroke="#999" stroke-width="0.8"/><circle cx="379.5" cy="306.77" r="1.05" fill="#111"/><circle cx="378.1" cy="307.32" r="1.05" fill="#111"/><circle cx="380.4" cy="308.32" r="1.05" fill="#111"/><text transform="translate(379.5 304.33) scale(1 1.14)" font-size="7.8" font-style="normal" fill="#2e2e2e" stroke="#2e2e2e" stroke-width="0.15" text-anchor="middle">c</text><path d="M314.8 236.8 V310.8 H388.3" stroke="#1e1e1e" stroke-width="1.1" fill="none"/><path d="M312.5 310.8 H314.8" stroke="#1e1e1e" stroke-width="1"/><text transform="translate(311.4 314.1) scale(1 1.0)" font-size="8.3" font-style="normal" fill="#2c2c2c" stroke="#2c2c2c" stroke-width="0.15" text-anchor="end">0.0</text><path d="M313.3 301.55 H314.8" stroke="#1e1e1e" stroke-width="1"/><path d="M312.5 292.3 H314.8" stroke="#1e1e1e" stroke-width="1"/><text transform="translate(311.4 295.6) scale(1 1.0)" font-size="8.3" font-style="normal" fill="#2c2c2c" stroke="#2c2c2c" stroke-width="0.15" text-anchor="end">0.5</text><path d="M313.3 283.05 H314.8" stroke="#1e1e1e" stroke-width="1"/><path d="M312.5 273.8 H314.8" stroke="#1e1e1e" stroke-width="1"/><text transform="translate(311.4 277.1) scale(1 1.0)" font-size="8.3" font-style="normal" fill="#2c2c2c" stroke="#2c2c2c" stroke-width="0.15" text-anchor="end">1.0</text><path d="M313.3 264.55 H314.8" stroke="#1e1e1e" stroke-width="1"/><path d="M312.5 255.3 H314.8" stroke="#1e1e1e" stroke-width="1"/><text transform="translate(311.4 258.6) scale(1 1.0)" font-size="8.3" font-style="normal" fill="#2c2c2c" stroke="#2c2c2c" stroke-width="0.15" text-anchor="end">1.5</text><path d="M313.3 246.05 H314.8" stroke="#1e1e1e" stroke-width="1"/><path d="M312.5 236.8 H314.8" stroke="#1e1e1e" stroke-width="1"/><text transform="translate(311.4 240.1) scale(1 1.0)" font-size="8.3" font-style="normal" fill="#2c2c2c" stroke="#2c2c2c" stroke-width="0.15" text-anchor="end">2.0</text><path d="M334 310.8 V313" stroke="#1e1e1e" stroke-width="1"/><text transform="translate(334 320.8) scale(1 1.02)" font-size="8.8" font-style="normal" fill="#2c2c2c" stroke="#2c2c2c" stroke-width="0.15" text-anchor="middle">+S</text><path d="M369 310.8 V313" stroke="#1e1e1e" stroke-width="1"/><text transform="translate(368 320.8) scale(1 1.02)" font-size="8.8" font-style="normal" fill="#2c2c2c" stroke="#2c2c2c" stroke-width="0.15" text-anchor="middle">−S</text></g>
<g><text transform="translate(28.45 382.75) scale(1 1.02) rotate(-90)" font-size="8.8" font-style="normal" fill="#333" stroke="#333" stroke-width="0.12" text-anchor="middle">Relative Expression</text><text transform="translate(84.55 338.8) scale(1 1.03)" font-size="9.0" font-style="italic" fill="#2c2c2c" stroke="#2c2c2c" stroke-width="0.1" text-anchor="middle">CYP79F2</text><rect x="52.85" y="372.43" width="8" height="48.27" fill="#ffffff" stroke="#444444" stroke-width="1"/><path d="M56.85 354.68 V389.17 M55.45 354.68 H58.25 M55.45 389.17 H58.25" stroke="#999" stroke-width="0.8"/><circle cx="56.85" cy="355.54" r="1.05" fill="#111"/><circle cx="55.45" cy="368.48" r="1.05" fill="#111"/><circle cx="57.75" cy="391.76" r="1.05" fill="#111"/><text transform="translate(56.85 352.28) scale(1 1.14)" font-size="7.8" font-style="normal" fill="#2e2e2e" stroke="#2e2e2e" stroke-width="0.15" text-anchor="middle">a</text><rect x="62.95" y="372.92" width="8" height="47.78" fill="#c6e0c2" stroke="#7c7c7c" stroke-width="1"/><path d="M66.95 366.01 V378.82 M65.55 366.01 H68.35 M65.55 378.82 H68.35" stroke="#999" stroke-width="0.8"/><circle cx="66.95" cy="366.33" r="1.05" fill="#111"/><circle cx="65.55" cy="371.14" r="1.05" fill="#111"/><circle cx="67.85" cy="379.78" r="1.05" fill="#111"/><text transform="translate(66.95 363.61) scale(1 1.14)" font-size="7.8" font-style="normal" fill="#2e2e2e" stroke="#2e2e2e" stroke-width="0.15" text-anchor="middle">a</text><rect x="73.05" y="374.89" width="8" height="45.81" fill="#3d8a6c" stroke="#2a5f4a" stroke-width="1"/><path d="M77.05 364.78 V384 M75.65 364.78 H78.45 M75.65 384 H78.45" stroke="#999" stroke-width="0.8"/><circle cx="77.05" cy="365.26" r="1.05" fill="#111"/><circle cx="75.65" cy="372.47" r="1.05" fill="#111"/><circle cx="77.95" cy="385.44" r="1.05" fill="#111"/><text transform="translate(77.05 362.38) scale(1 1.14)" font-size="7.8" font-style="normal" fill="#2e2e2e" stroke="#2e2e2e" stroke-width="0.15" text-anchor="middle">a</text><rect x="87.85" y="389.67" width="8" height="31.03" fill="#ffffff" stroke="#444444" stroke-width="1"/><path d="M91.85 381.29 V397.05 M90.45 381.29 H93.25 M90.45 397.05 H93.25" stroke="#999" stroke-width="0.8"/><circle cx="91.85" cy="381.68" r="1.05" fill="#111"/><circle cx="90.45" cy="387.59" r="1.05" fill="#111"/><circle cx="92.75" cy="398.23" r="1.05" fill="#111"/><text transform="translate(91.85 378.89) scale(1 1.14)" font-size="7.8" font-style="normal" fill="#2e2e2e" stroke="#2e2e2e" stroke-width="0.15" text-anchor="middle">b</text><rect x="97.95" y="406.42" width="8" height="14.28" fill="#c6e0c2" stroke="#7c7c7c" stroke-width="1"/><path d="M101.95 405.92 V405.92 M100.55 405.92 H103.35 M100.55 405.92 H103.35" stroke="#999" stroke-width="0.8"/><circle cx="101.95" cy="405.92" r="1.05" fill="#111"/><circle cx="100.55" cy="405.92" r="1.05" fill="#111"/><circle cx="102.85" cy="405.92" r="1.05" fill="#111"/><text transform="translate(101.95 403.52) scale(1 1.14)" font-size="7.8" font-style="normal" fill="#2e2e2e" stroke="#2e2e2e" stroke-width="0.15" text-anchor="middle">c</text><rect x="108.05" y="416.27" width="8" height="4.43" fill="#3d8a6c" stroke="#2a5f4a" stroke-width="1"/><path d="M112.05 413.31 V418.24 M110.65 413.31 H113.45 M110.65 418.24 H113.45" stroke="#999" stroke-width="0.8"/><circle cx="112.05" cy="413.43" r="1.05" fill="#111"/><circle cx="110.65" cy="415.28" r="1.05" fill="#111"/><circle cx="112.95" cy="418.61" r="1.05" fill="#111"/><text transform="translate(112.05 410.91) scale(1 1.14)" font-size="7.8" font-style="normal" fill="#2e2e2e" stroke="#2e2e2e" stroke-width="0.15" text-anchor="middle">c</text><path d="M47.35 346.8 V420.7 H120.85" stroke="#1e1e1e" stroke-width="1.1" fill="none"/><path d="M45.05 420.7 H47.35" stroke="#1e1e1e" stroke-width="1"/><text transform="translate(43.95 424) scale(1 1.0)" font-size="8.3" font-style="normal" fill="#2c2c2c" stroke="#2c2c2c" stroke-width="0.15" text-anchor="end">0.0</text><path d="M45.85 408.38 H47.35" stroke="#1e1e1e" stroke-width="1"/><path d="M45.05 396.07 H47.35" stroke="#1e1e1e" stroke-width="1"/><text transform="translate(43.95 399.37) scale(1 1.0)" font-size="8.3" font-style="normal" fill="#2c2c2c" stroke="#2c2c2c" stroke-width="0.15" text-anchor="end">0.5</text><path d="M45.85 383.75 H47.35" stroke="#1e1e1e" stroke-width="1"/><path d="M45.05 371.43 H47.35" stroke="#1e1e1e" stroke-width="1"/><text transform="translate(43.95 374.73) scale(1 1.0)" font-size="8.3" font-style="normal" fill="#2c2c2c" stroke="#2c2c2c" stroke-width="0.15" text-anchor="end">1.0</text><path d="M45.85 359.12 H47.35" stroke="#1e1e1e" stroke-width="1"/><path d="M45.05 346.8 H47.35" stroke="#1e1e1e" stroke-width="1"/><text transform="translate(43.95 350.1) scale(1 1.0)" font-size="8.3" font-style="normal" fill="#2c2c2c" stroke="#2c2c2c" stroke-width="0.15" text-anchor="end">1.5</text><path d="M66.55 420.7 V422.9" stroke="#1e1e1e" stroke-width="1"/><text transform="translate(66.55 430.7) scale(1 1.02)" font-size="8.8" font-style="normal" fill="#2c2c2c" stroke="#2c2c2c" stroke-width="0.15" text-anchor="middle">+S</text><path d="M101.55 420.7 V422.9" stroke="#1e1e1e" stroke-width="1"/><text transform="translate(100.55 430.7) scale(1 1.02)" font-size="8.8" font-style="normal" fill="#2c2c2c" stroke="#2c2c2c" stroke-width="0.15" text-anchor="middle">−S</text></g>
<g><text transform="translate(160.9 382.75) scale(1 1.02) rotate(-90)" font-size="8.8" font-style="normal" fill="#333" stroke="#333" stroke-width="0.12" text-anchor="middle">Relative Expression</text><text transform="translate(217.4 338.8) scale(1 1.03)" font-size="9.0" font-style="italic" fill="#2c2c2c" stroke="#2c2c2c" stroke-width="0.1" text-anchor="middle">CYP83A1</text><rect x="185.7" y="384.62" width="8" height="36.08" fill="#ffffff" stroke="#444444" stroke-width="1"/><path d="M189.7 374.51 V393.73 M188.3 374.51 H191.1 M188.3 393.73 H191.1" stroke="#999" stroke-width="0.8"/><circle cx="189.7" cy="374.99" r="1.05" fill="#111"/><circle cx="188.3" cy="382.2" r="1.05" fill="#111"/><circle cx="190.6" cy="395.17" r="1.05" fill="#111"/><text transform="translate(189.7 372.11) scale(1 1.14)" font-size="7.8" font-style="normal" fill="#2e2e2e" stroke="#2e2e2e" stroke-width="0.15" text-anchor="middle">a</text><rect x="195.8" y="375.75" width="8" height="44.95" fill="#c6e0c2" stroke="#7c7c7c" stroke-width="1"/><path d="M199.8 369.71 V380.79 M198.4 369.71 H201.2 M198.4 380.79 H201.2" stroke="#999" stroke-width="0.8"/><circle cx="199.8" cy="369.99" r="1.05" fill="#111"/><circle cx="198.4" cy="374.14" r="1.05" fill="#111"/><circle cx="200.7" cy="381.63" r="1.05" fill="#111"/><text transform="translate(199.8 367.31) scale(1 1.14)" font-size="7.8" font-style="normal" fill="#2e2e2e" stroke="#2e2e2e" stroke-width="0.15" text-anchor="middle">a</text><rect x="205.9" y="373.9" width="8" height="46.8" fill="#3d8a6c" stroke="#2a5f4a" stroke-width="1"/><path d="M209.9 363.06 V383.75 M208.5 363.06 H211.3 M208.5 383.75 H211.3" stroke="#999" stroke-width="0.8"/><circle cx="209.9" cy="363.58" r="1.05" fill="#111"/><circle cx="208.5" cy="371.33" r="1.05" fill="#111"/><circle cx="210.8" cy="385.3" r="1.05" fill="#111"/><text transform="translate(209.9 360.66) scale(1 1.14)" font-size="7.8" font-style="normal" fill="#2e2e2e" stroke="#2e2e2e" stroke-width="0.15" text-anchor="middle">a</text><rect x="220.7" y="401.99" width="8" height="18.71" fill="#ffffff" stroke="#444444" stroke-width="1"/><path d="M224.7 396.68 V406.29 M223.3 396.68 H226.1 M223.3 406.29 H226.1" stroke="#999" stroke-width="0.8"/><circle cx="224.7" cy="396.92" r="1.05" fill="#111"/><circle cx="223.3" cy="400.53" r="1.05" fill="#111"/><circle cx="225.6" cy="407.01" r="1.05" fill="#111"/><text transform="translate(224.7 394.28) scale(1 1.14)" font-size="7.8" font-style="normal" fill="#2e2e2e" stroke="#2e2e2e" stroke-width="0.15" text-anchor="middle">b</text><rect x="230.8" y="420.09" width="8" height="0.61" fill="#c6e0c2" stroke="#7c7c7c" stroke-width="1"/><path d="M234.8 418.85 V420.33 M233.4 418.85 H236.2 M233.4 420.33 H236.2" stroke="#999" stroke-width="0.8"/><circle cx="234.8" cy="418.89" r="1.05" fill="#111"/><circle cx="233.4" cy="419.44" r="1.05" fill="#111"/><circle cx="235.7" cy="419.7" r="1.05" fill="#111"/><text transform="translate(234.8 416.45) scale(1 1.14)" font-size="7.8" font-style="normal" fill="#2e2e2e" stroke="#2e2e2e" stroke-width="0.15" text-anchor="middle">c</text><rect x="240.9" y="420.09" width="8" height="0.61" fill="#3d8a6c" stroke="#2a5f4a" stroke-width="1"/><path d="M244.9 418.85 V420.33 M243.5 418.85 H246.3 M243.5 420.33 H246.3" stroke="#999" stroke-width="0.8"/><circle cx="244.9" cy="418.89" r="1.05" fill="#111"/><circle cx="243.5" cy="419.44" r="1.05" fill="#111"/><circle cx="245.8" cy="419.7" r="1.05" fill="#111"/><text transform="translate(244.9 416.45) scale(1 1.14)" font-size="7.8" font-style="normal" fill="#2e2e2e" stroke="#2e2e2e" stroke-width="0.15" text-anchor="middle">c</text><path d="M180.2 346.8 V420.7 H253.7" stroke="#1e1e1e" stroke-width="1.1" fill="none"/><path d="M177.9 420.7 H180.2" stroke="#1e1e1e" stroke-width="1"/><text transform="translate(176.8 424) scale(1 1.0)" font-size="8.3" font-style="normal" fill="#2c2c2c" stroke="#2c2c2c" stroke-width="0.15" text-anchor="end">0.0</text><path d="M178.7 411.46 H180.2" stroke="#1e1e1e" stroke-width="1"/><path d="M177.9 402.23 H180.2" stroke="#1e1e1e" stroke-width="1"/><text transform="translate(176.8 405.53) scale(1 1.0)" font-size="8.3" font-style="normal" fill="#2c2c2c" stroke="#2c2c2c" stroke-width="0.15" text-anchor="end">0.5</text><path d="M178.7 392.99 H180.2" stroke="#1e1e1e" stroke-width="1"/><path d="M177.9 383.75 H180.2" stroke="#1e1e1e" stroke-width="1"/><text transform="translate(176.8 387.05) scale(1 1.0)" font-size="8.3" font-style="normal" fill="#2c2c2c" stroke="#2c2c2c" stroke-width="0.15" text-anchor="end">1.0</text><path d="M178.7 374.51 H180.2" stroke="#1e1e1e" stroke-width="1"/><path d="M177.9 365.27 H180.2" stroke="#1e1e1e" stroke-width="1"/><text transform="translate(176.8 368.57) scale(1 1.0)" font-size="8.3" font-style="normal" fill="#2c2c2c" stroke="#2c2c2c" stroke-width="0.15" text-anchor="end">1.5</text><path d="M178.7 356.04 H180.2" stroke="#1e1e1e" stroke-width="1"/><path d="M177.9 346.8 H180.2" stroke="#1e1e1e" stroke-width="1"/><text transform="translate(176.8 350.1) scale(1 1.0)" font-size="8.3" font-style="normal" fill="#2c2c2c" stroke="#2c2c2c" stroke-width="0.15" text-anchor="end">2.0</text><path d="M199.4 420.7 V422.9" stroke="#1e1e1e" stroke-width="1"/><text transform="translate(199.4 430.7) scale(1 1.02)" font-size="8.8" font-style="normal" fill="#2c2c2c" stroke="#2c2c2c" stroke-width="0.15" text-anchor="middle">+S</text><path d="M234.4 420.7 V422.9" stroke="#1e1e1e" stroke-width="1"/><text transform="translate(233.4 430.7) scale(1 1.02)" font-size="8.8" font-style="normal" fill="#2c2c2c" stroke="#2c2c2c" stroke-width="0.15" text-anchor="middle">−S</text></g>
<g><text transform="translate(295.5 382.75) scale(1 1.02) rotate(-90)" font-size="8.8" font-style="normal" fill="#333" stroke="#333" stroke-width="0.12" text-anchor="middle">Relative Expression</text><text stroke="#2c2c2c" stroke-width="0.1" transform="translate(333.7 338.8) scale(1 1.03)" font-size="9.0" font-style="italic" fill="#2c2c2c">FMO<tspan font-size="5.6" dy="0.3">GSOX1</tspan></text><rect x="320.3" y="384.62" width="8" height="36.08" fill="#ffffff" stroke="#444444" stroke-width="1"/><path d="M324.3 375.44 V392.8 M322.9 375.44 H325.7 M322.9 392.8 H325.7" stroke="#999" stroke-width="0.8"/><circle cx="324.3" cy="375.87" r="1.05" fill="#111"/><circle cx="322.9" cy="382.38" r="1.05" fill="#111"/><circle cx="325.2" cy="394.11" r="1.05" fill="#111"/><text transform="translate(324.3 373.04) scale(1 1.14)" font-size="7.8" font-style="normal" fill="#2e2e2e" stroke="#2e2e2e" stroke-width="0.15" text-anchor="middle">ab</text><rect x="330.4" y="368.73" width="8" height="51.97" fill="#c6e0c2" stroke="#7c7c7c" stroke-width="1"/><path d="M334.4 363.43 V373.03 M333 363.43 H335.8 M333 373.03 H335.8" stroke="#999" stroke-width="0.8"/><circle cx="334.4" cy="363.67" r="1.05" fill="#111"/><circle cx="333" cy="367.27" r="1.05" fill="#111"/><circle cx="335.3" cy="373.76" r="1.05" fill="#111"/><text transform="translate(334.4 361.03) scale(1 1.14)" font-size="7.8" font-style="normal" fill="#2e2e2e" stroke="#2e2e2e" stroke-width="0.15" text-anchor="middle">a</text><rect x="340.5" y="373.9" width="8" height="46.8" fill="#3d8a6c" stroke="#2a5f4a" stroke-width="1"/><path d="M344.5 363.24 V383.57 M343.1 363.24 H345.9 M343.1 383.57 H345.9" stroke="#999" stroke-width="0.8"/><circle cx="344.5" cy="363.75" r="1.05" fill="#111"/><circle cx="343.1" cy="371.37" r="1.05" fill="#111"/><circle cx="345.4" cy="385.09" r="1.05" fill="#111"/><text transform="translate(344.5 360.84) scale(1 1.14)" font-size="7.8" font-style="normal" fill="#2e2e2e" stroke="#2e2e2e" stroke-width="0.15" text-anchor="middle">a</text><rect x="355.3" y="410.48" width="8" height="10.22" fill="#ffffff" stroke="#444444" stroke-width="1"/><path d="M359.3 402.59 V417.37 M357.9 402.59 H360.7 M357.9 417.37 H360.7" stroke="#999" stroke-width="0.8"/><circle cx="359.3" cy="402.96" r="1.05" fill="#111"/><circle cx="357.9" cy="408.51" r="1.05" fill="#111"/><circle cx="360.2" cy="418.48" r="1.05" fill="#111"/><text transform="translate(359.3 400.19) scale(1 1.14)" font-size="7.8" font-style="normal" fill="#2e2e2e" stroke="#2e2e2e" stroke-width="0.15" text-anchor="middle">c</text><rect x="365.4" y="417.5" width="8" height="3.19" fill="#c6e0c2" stroke="#7c7c7c" stroke-width="1"/><path d="M369.4 416.27 V417.74 M368 416.27 H370.8 M368 417.74 H370.8" stroke="#999" stroke-width="0.8"/><circle cx="369.4" cy="416.3" r="1.05" fill="#111"/><circle cx="368" cy="416.86" r="1.05" fill="#111"/><circle cx="370.3" cy="417.85" r="1.05" fill="#111"/><text transform="translate(369.4 413.87) scale(1 1.14)" font-size="7.8" font-style="normal" fill="#2e2e2e" stroke="#2e2e2e" stroke-width="0.15" text-anchor="middle">d</text><rect x="375.5" y="418.98" width="8" height="1.72" fill="#3d8a6c" stroke="#2a5f4a" stroke-width="1"/><path d="M379.5 417.74 V419.22 M378.1 417.74 H380.9 M378.1 419.22 H380.9" stroke="#999" stroke-width="0.8"/><circle cx="379.5" cy="417.78" r="1.05" fill="#111"/><circle cx="378.1" cy="418.34" r="1.05" fill="#111"/><circle cx="380.4" cy="419.33" r="1.05" fill="#111"/><text transform="translate(379.5 415.34) scale(1 1.14)" font-size="7.8" font-style="normal" fill="#2e2e2e" stroke="#2e2e2e" stroke-width="0.15" text-anchor="middle">d</text><path d="M314.8 346.8 V420.7 H388.3" stroke="#1e1e1e" stroke-width="1.1" fill="none"/><path d="M312.5 420.7 H314.8" stroke="#1e1e1e" stroke-width="1"/><text transform="translate(311.4 424) scale(1 1.0)" font-size="8.3" font-style="normal" fill="#2c2c2c" stroke="#2c2c2c" stroke-width="0.15" text-anchor="end">0.0</text><path d="M313.3 411.46 H314.8" stroke="#1e1e1e" stroke-width="1"/><path d="M312.5 402.23 H314.8" stroke="#1e1e1e" stroke-width="1"/><text transform="translate(311.4 405.53) scale(1 1.0)" font-size="8.3" font-style="normal" fill="#2c2c2c" stroke="#2c2c2c" stroke-width="0.15" text-anchor="end">0.5</text><path d="M313.3 392.99 H314.8" stroke="#1e1e1e" stroke-width="1"/><path d="M312.5 383.75 H314.8" stroke="#1e1e1e" stroke-width="1"/><text transform="translate(311.4 387.05) scale(1 1.0)" font-size="8.3" font-style="normal" fill="#2c2c2c" stroke="#2c2c2c" stroke-width="0.15" text-anchor="end">1.0</text><path d="M313.3 374.51 H314.8" stroke="#1e1e1e" stroke-width="1"/><path d="M312.5 365.27 H314.8" stroke="#1e1e1e" stroke-width="1"/><text transform="translate(311.4 368.57) scale(1 1.0)" font-size="8.3" font-style="normal" fill="#2c2c2c" stroke="#2c2c2c" stroke-width="0.15" text-anchor="end">1.5</text><path d="M313.3 356.04 H314.8" stroke="#1e1e1e" stroke-width="1"/><path d="M312.5 346.8 H314.8" stroke="#1e1e1e" stroke-width="1"/><text transform="translate(311.4 350.1) scale(1 1.0)" font-size="8.3" font-style="normal" fill="#2c2c2c" stroke="#2c2c2c" stroke-width="0.15" text-anchor="end">2.0</text><path d="M334 420.7 V422.9" stroke="#1e1e1e" stroke-width="1"/><text transform="translate(334 430.7) scale(1 1.02)" font-size="8.8" font-style="normal" fill="#2c2c2c" stroke="#2c2c2c" stroke-width="0.15" text-anchor="middle">+S</text><path d="M369 420.7 V422.9" stroke="#1e1e1e" stroke-width="1"/><text transform="translate(368 430.7) scale(1 1.02)" font-size="8.8" font-style="normal" fill="#2c2c2c" stroke="#2c2c2c" stroke-width="0.15" text-anchor="middle">−S</text></g>
<g><text transform="translate(28.45 496.3) scale(1 1.02) rotate(-90)" font-size="8.8" font-style="normal" fill="#333" stroke="#333" stroke-width="0.12" text-anchor="middle">Relative Expression</text><text transform="translate(84.55 452.4) scale(1 1.03)" font-size="9.0" font-style="italic" fill="#2c2c2c" stroke="#2c2c2c" stroke-width="0.1" text-anchor="middle">BGLU28</text><rect x="52.85" y="532.73" width="8" height="1.47" fill="#ffffff" stroke="#444444" stroke-width="1"/><path d="M56.85 531 V533.46 M55.45 531 H58.25 M55.45 533.46 H58.25" stroke="#999" stroke-width="0.8"/><circle cx="56.85" cy="531.06" r="1.05" fill="#111"/><circle cx="55.45" cy="531.99" r="1.05" fill="#111"/><circle cx="57.75" cy="533.2" r="1.05" fill="#111"/><text transform="translate(56.85 528.6) scale(1 1.14)" font-size="7.8" font-style="normal" fill="#2e2e2e" stroke="#2e2e2e" stroke-width="0.15" text-anchor="middle">d</text><rect x="62.95" y="532.73" width="8" height="1.47" fill="#c6e0c2" stroke="#7c7c7c" stroke-width="1"/><path d="M66.95 531.25 V533.22 M65.55 531.25 H68.35 M65.55 533.22 H68.35" stroke="#999" stroke-width="0.8"/><circle cx="66.95" cy="531.3" r="1.05" fill="#111"/><circle cx="65.55" cy="532.04" r="1.05" fill="#111"/><circle cx="67.85" cy="533.2" r="1.05" fill="#111"/><text transform="translate(66.95 528.85) scale(1 1.14)" font-size="7.8" font-style="normal" fill="#2e2e2e" stroke="#2e2e2e" stroke-width="0.15" text-anchor="middle">d</text><rect x="73.05" y="531.75" width="8" height="2.45" fill="#3d8a6c" stroke="#2a5f4a" stroke-width="1"/><path d="M77.05 529.77 V532.72 M75.65 529.77 H78.45 M75.65 532.72 H78.45" stroke="#999" stroke-width="0.8"/><circle cx="77.05" cy="529.85" r="1.05" fill="#111"/><circle cx="75.65" cy="530.95" r="1.05" fill="#111"/><circle cx="77.95" cy="532.95" r="1.05" fill="#111"/><text transform="translate(77.05 527.37) scale(1 1.14)" font-size="7.8" font-style="normal" fill="#2e2e2e" stroke="#2e2e2e" stroke-width="0.15" text-anchor="middle">d</text><rect x="87.85" y="520.43" width="8" height="13.77" fill="#ffffff" stroke="#444444" stroke-width="1"/><path d="M91.85 517.47 V522.39 M90.45 517.47 H93.25 M90.45 522.39 H93.25" stroke="#999" stroke-width="0.8"/><circle cx="91.85" cy="517.6" r="1.05" fill="#111"/><circle cx="90.45" cy="519.44" r="1.05" fill="#111"/><circle cx="92.75" cy="522.76" r="1.05" fill="#111"/><text transform="translate(91.85 515.07) scale(1 1.14)" font-size="7.8" font-style="normal" fill="#2e2e2e" stroke="#2e2e2e" stroke-width="0.15" text-anchor="middle">c</text><rect x="97.95" y="490.91" width="8" height="43.29" fill="#c6e0c2" stroke="#7c7c7c" stroke-width="1"/><path d="M101.95 486.48 V494.35 M100.55 486.48 H103.35 M100.55 494.35 H103.35" stroke="#999" stroke-width="0.8"/><circle cx="101.95" cy="486.67" r="1.05" fill="#111"/><circle cx="100.55" cy="489.62" r="1.05" fill="#111"/><circle cx="102.85" cy="494.94" r="1.05" fill="#111"/><text transform="translate(101.95 484.08) scale(1 1.14)" font-size="7.8" font-style="normal" fill="#2e2e2e" stroke="#2e2e2e" stroke-width="0.15" text-anchor="middle">b</text><rect x="108.05" y="474.92" width="8" height="59.28" fill="#3d8a6c" stroke="#2a5f4a" stroke-width="1"/><path d="M112.05 469.5 V479.34 M110.65 469.5 H113.45 M110.65 479.34 H113.45" stroke="#999" stroke-width="0.8"/><circle cx="112.05" cy="469.75" r="1.05" fill="#111"/><circle cx="110.65" cy="473.44" r="1.05" fill="#111"/><circle cx="112.95" cy="480.08" r="1.05" fill="#111"/><text transform="translate(112.05 467.1) scale(1 1.14)" font-size="7.8" font-style="normal" fill="#2e2e2e" stroke="#2e2e2e" stroke-width="0.15" text-anchor="middle">a</text><path d="M47.35 460.4 V534.2 H120.85" stroke="#1e1e1e" stroke-width="1.1" fill="none"/><path d="M45.05 534.2 H47.35" stroke="#1e1e1e" stroke-width="1"/><text transform="translate(43.95 537.5) scale(1 1.0)" font-size="8.3" font-style="normal" fill="#2c2c2c" stroke="#2c2c2c" stroke-width="0.15" text-anchor="end">0</text><path d="M45.85 521.9 H47.35" stroke="#1e1e1e" stroke-width="1"/><path d="M45.05 509.6 H47.35" stroke="#1e1e1e" stroke-width="1"/><text transform="translate(43.95 512.9) scale(1 1.0)" font-size="8.3" font-style="normal" fill="#2c2c2c" stroke="#2c2c2c" stroke-width="0.15" text-anchor="end">10</text><path d="M45.85 497.3 H47.35" stroke="#1e1e1e" stroke-width="1"/><path d="M45.05 485 H47.35" stroke="#1e1e1e" stroke-width="1"/><text transform="translate(43.95 488.3) scale(1 1.0)" font-size="8.3" font-style="normal" fill="#2c2c2c" stroke="#2c2c2c" stroke-width="0.15" text-anchor="end">20</text><path d="M45.85 472.7 H47.35" stroke="#1e1e1e" stroke-width="1"/><path d="M45.05 460.4 H47.35" stroke="#1e1e1e" stroke-width="1"/><text transform="translate(43.95 463.7) scale(1 1.0)" font-size="8.3" font-style="normal" fill="#2c2c2c" stroke="#2c2c2c" stroke-width="0.15" text-anchor="end">30</text><path d="M66.55 534.2 V536.4" stroke="#1e1e1e" stroke-width="1"/><text transform="translate(66.55 544.2) scale(1 1.02)" font-size="8.8" font-style="normal" fill="#2c2c2c" stroke="#2c2c2c" stroke-width="0.15" text-anchor="middle">+S</text><path d="M101.55 534.2 V536.4" stroke="#1e1e1e" stroke-width="1"/><text transform="translate(100.55 544.2) scale(1 1.02)" font-size="8.8" font-style="normal" fill="#2c2c2c" stroke="#2c2c2c" stroke-width="0.15" text-anchor="middle">−S</text></g>
<g><text transform="translate(160.9 496.3) scale(1 1.02) rotate(-90)" font-size="8.8" font-style="normal" fill="#333" stroke="#333" stroke-width="0.12" text-anchor="middle">Relative Expression</text><text transform="translate(217.4 452.4) scale(1 1.03)" font-size="9.0" font-style="italic" fill="#2c2c2c" stroke="#2c2c2c" stroke-width="0.1" text-anchor="middle">BGLU30</text><rect x="185.7" y="533.78" width="8" height="0.42" fill="#ffffff" stroke="#444444" stroke-width="1"/><path d="M189.7 532.82 V533.74 M188.3 532.82 H191.1 M188.3 533.74 H191.1" stroke="#999" stroke-width="0.8"/><circle cx="189.7" cy="532.84" r="1.05" fill="#111"/><circle cx="188.3" cy="533.19" r="1.05" fill="#111"/><circle cx="190.6" cy="533.2" r="1.05" fill="#111"/><text transform="translate(189.7 530.42) scale(1 1.14)" font-size="7.8" font-style="normal" fill="#2e2e2e" stroke="#2e2e2e" stroke-width="0.15" text-anchor="middle">c</text><rect x="195.8" y="533.78" width="8" height="0.42" fill="#c6e0c2" stroke="#7c7c7c" stroke-width="1"/><path d="M199.8 532.82 V533.74 M198.4 532.82 H201.2 M198.4 533.74 H201.2" stroke="#999" stroke-width="0.8"/><circle cx="199.8" cy="532.84" r="1.05" fill="#111"/><circle cx="198.4" cy="533.19" r="1.05" fill="#111"/><circle cx="200.7" cy="533.2" r="1.05" fill="#111"/><text transform="translate(199.8 530.42) scale(1 1.14)" font-size="7.8" font-style="normal" fill="#2e2e2e" stroke="#2e2e2e" stroke-width="0.15" text-anchor="middle">c</text><rect x="205.9" y="533.59" width="8" height="0.61" fill="#3d8a6c" stroke="#2a5f4a" stroke-width="1"/><path d="M209.9 532.54 V533.65 M208.5 532.54 H211.3 M208.5 533.65 H211.3" stroke="#999" stroke-width="0.8"/><circle cx="209.9" cy="532.57" r="1.05" fill="#111"/><circle cx="208.5" cy="532.98" r="1.05" fill="#111"/><circle cx="210.8" cy="533.2" r="1.05" fill="#111"/><text transform="translate(209.9 530.14) scale(1 1.14)" font-size="7.8" font-style="normal" fill="#2e2e2e" stroke="#2e2e2e" stroke-width="0.15" text-anchor="middle">c</text><rect x="220.7" y="530.18" width="8" height="4.02" fill="#ffffff" stroke="#444444" stroke-width="1"/><path d="M224.7 526.45 V532.91 M223.3 526.45 H226.1 M223.3 532.91 H226.1" stroke="#999" stroke-width="0.8"/><circle cx="224.7" cy="526.61" r="1.05" fill="#111"/><circle cx="223.3" cy="529.03" r="1.05" fill="#111"/><circle cx="225.6" cy="533.2" r="1.05" fill="#111"/><text transform="translate(224.7 524.05) scale(1 1.14)" font-size="7.8" font-style="normal" fill="#2e2e2e" stroke="#2e2e2e" stroke-width="0.15" text-anchor="middle">b</text><rect x="230.8" y="491.8" width="8" height="42.4" fill="#c6e0c2" stroke="#7c7c7c" stroke-width="1"/><path d="M234.8 478.39 V504.22 M233.4 478.39 H236.2 M233.4 504.22 H236.2" stroke="#999" stroke-width="0.8"/><circle cx="234.8" cy="479.03" r="1.05" fill="#111"/><circle cx="233.4" cy="488.72" r="1.05" fill="#111"/><circle cx="235.7" cy="506.16" r="1.05" fill="#111"/><text transform="translate(234.8 475.99) scale(1 1.14)" font-size="7.8" font-style="normal" fill="#2e2e2e" stroke="#2e2e2e" stroke-width="0.15" text-anchor="middle">a</text><rect x="240.9" y="481.19" width="8" height="53.01" fill="#3d8a6c" stroke="#2a5f4a" stroke-width="1"/><path d="M244.9 461.32 V500.07 M243.5 461.32 H246.3 M243.5 500.07 H246.3" stroke="#999" stroke-width="0.8"/><circle cx="244.9" cy="462.29" r="1.05" fill="#111"/><circle cx="243.5" cy="476.82" r="1.05" fill="#111"/><circle cx="245.8" cy="502.97" r="1.05" fill="#111"/><text transform="translate(244.9 458.92) scale(1 1.14)" font-size="7.8" font-style="normal" fill="#2e2e2e" stroke="#2e2e2e" stroke-width="0.15" text-anchor="middle">a</text><path d="M180.2 460.4 V534.2 H253.7" stroke="#1e1e1e" stroke-width="1.1" fill="none"/><path d="M177.9 534.2 H180.2" stroke="#1e1e1e" stroke-width="1"/><text transform="translate(176.8 537.5) scale(1 1.0)" font-size="8.3" font-style="normal" fill="#2c2c2c" stroke="#2c2c2c" stroke-width="0.15" text-anchor="end">0</text><path d="M178.7 524.98 H180.2" stroke="#1e1e1e" stroke-width="1"/><path d="M177.9 515.75 H180.2" stroke="#1e1e1e" stroke-width="1"/><text transform="translate(176.8 519.05) scale(1 1.0)" font-size="8.3" font-style="normal" fill="#2c2c2c" stroke="#2c2c2c" stroke-width="0.15" text-anchor="end">20</text><path d="M178.7 506.53 H180.2" stroke="#1e1e1e" stroke-width="1"/><path d="M177.9 497.3 H180.2" stroke="#1e1e1e" stroke-width="1"/><text transform="translate(176.8 500.6) scale(1 1.0)" font-size="8.3" font-style="normal" fill="#2c2c2c" stroke="#2c2c2c" stroke-width="0.15" text-anchor="end">40</text><path d="M178.7 488.07 H180.2" stroke="#1e1e1e" stroke-width="1"/><path d="M177.9 478.85 H180.2" stroke="#1e1e1e" stroke-width="1"/><text transform="translate(176.8 482.15) scale(1 1.0)" font-size="8.3" font-style="normal" fill="#2c2c2c" stroke="#2c2c2c" stroke-width="0.15" text-anchor="end">60</text><path d="M178.7 469.62 H180.2" stroke="#1e1e1e" stroke-width="1"/><path d="M177.9 460.4 H180.2" stroke="#1e1e1e" stroke-width="1"/><text transform="translate(176.8 463.7) scale(1 1.0)" font-size="8.3" font-style="normal" fill="#2c2c2c" stroke="#2c2c2c" stroke-width="0.15" text-anchor="end">80</text><path d="M199.4 534.2 V536.4" stroke="#1e1e1e" stroke-width="1"/><text transform="translate(199.4 544.2) scale(1 1.02)" font-size="8.8" font-style="normal" fill="#2c2c2c" stroke="#2c2c2c" stroke-width="0.15" text-anchor="middle">+S</text><path d="M234.4 534.2 V536.4" stroke="#1e1e1e" stroke-width="1"/><text transform="translate(233.4 544.2) scale(1 1.02)" font-size="8.8" font-style="normal" fill="#2c2c2c" stroke="#2c2c2c" stroke-width="0.15" text-anchor="middle">−S</text></g>
<g><text transform="translate(296.6 496.3) scale(1 1.02) rotate(-90)" font-size="8.8" font-style="normal" fill="#333" stroke="#333" stroke-width="0.12" text-anchor="middle">Relative Expression</text><text transform="translate(353.3 452.4) scale(1 1.03)" font-size="9.0" font-style="italic" fill="#2c2c2c" stroke="#2c2c2c" stroke-width="0.1" text-anchor="middle">TGG1</text><rect x="321.6" y="485.99" width="8" height="48.21" fill="#ffffff" stroke="#444444" stroke-width="1"/><path d="M325.6 477.62 V493.36 M324.2 477.62 H327 M324.2 493.36 H327" stroke="#999" stroke-width="0.8"/><circle cx="325.6" cy="478.01" r="1.05" fill="#111"/><circle cx="324.2" cy="483.92" r="1.05" fill="#111"/><circle cx="326.5" cy="494.54" r="1.05" fill="#111"/><text transform="translate(325.6 475.22) scale(1 1.14)" font-size="7.8" font-style="normal" fill="#2e2e2e" stroke="#2e2e2e" stroke-width="0.15" text-anchor="middle">a</text><rect x="331.7" y="482.06" width="8" height="52.14" fill="#c6e0c2" stroke="#7c7c7c" stroke-width="1"/><path d="M335.7 472.21 V490.9 M334.3 472.21 H337.1 M334.3 490.9 H337.1" stroke="#999" stroke-width="0.8"/><circle cx="335.7" cy="472.68" r="1.05" fill="#111"/><circle cx="334.3" cy="479.69" r="1.05" fill="#111"/><circle cx="336.6" cy="492.31" r="1.05" fill="#111"/><text transform="translate(335.7 469.81) scale(1 1.14)" font-size="7.8" font-style="normal" fill="#2e2e2e" stroke="#2e2e2e" stroke-width="0.15" text-anchor="middle">a</text><rect x="341.8" y="477.63" width="8" height="56.57" fill="#3d8a6c" stroke="#2a5f4a" stroke-width="1"/><path d="M345.8 464.83 V489.43 M344.4 464.83 H347.2 M344.4 489.43 H347.2" stroke="#999" stroke-width="0.8"/><circle cx="345.8" cy="465.44" r="1.05" fill="#111"/><circle cx="344.4" cy="474.67" r="1.05" fill="#111"/><circle cx="346.7" cy="491.27" r="1.05" fill="#111"/><text transform="translate(345.8 462.43) scale(1 1.14)" font-size="7.8" font-style="normal" fill="#2e2e2e" stroke="#2e2e2e" stroke-width="0.15" text-anchor="middle">a</text><rect x="356.6" y="487.96" width="8" height="46.24" fill="#ffffff" stroke="#444444" stroke-width="1"/><path d="M360.6 477.13 V497.79 M359.2 477.13 H362 M359.2 497.79 H362" stroke="#999" stroke-width="0.8"/><circle cx="360.6" cy="477.64" r="1.05" fill="#111"/><circle cx="359.2" cy="485.39" r="1.05" fill="#111"/><circle cx="361.5" cy="499.34" r="1.05" fill="#111"/><text transform="translate(360.6 474.73) scale(1 1.14)" font-size="7.8" font-style="normal" fill="#2e2e2e" stroke="#2e2e2e" stroke-width="0.15" text-anchor="middle">a</text><rect x="366.7" y="491.9" width="8" height="42.3" fill="#c6e0c2" stroke="#7c7c7c" stroke-width="1"/><path d="M370.7 483.52 V499.27 M369.3 483.52 H372.1 M369.3 499.27 H372.1" stroke="#999" stroke-width="0.8"/><circle cx="370.7" cy="483.92" r="1.05" fill="#111"/><circle cx="369.3" cy="489.82" r="1.05" fill="#111"/><circle cx="371.6" cy="500.45" r="1.05" fill="#111"/><text transform="translate(370.7 481.12) scale(1 1.14)" font-size="7.8" font-style="normal" fill="#2e2e2e" stroke="#2e2e2e" stroke-width="0.15" text-anchor="middle">a</text><rect x="376.8" y="493.86" width="8" height="40.34" fill="#3d8a6c" stroke="#2a5f4a" stroke-width="1"/><path d="M380.8 484.51 V502.22 M379.4 484.51 H382.2 M379.4 502.22 H382.2" stroke="#999" stroke-width="0.8"/><circle cx="380.8" cy="484.95" r="1.05" fill="#111"/><circle cx="379.4" cy="491.59" r="1.05" fill="#111"/><circle cx="381.7" cy="503.55" r="1.05" fill="#111"/><text transform="translate(380.8 482.11) scale(1 1.14)" font-size="7.8" font-style="normal" fill="#2e2e2e" stroke="#2e2e2e" stroke-width="0.15" text-anchor="middle">a</text><path d="M316.1 460.4 V534.2 H389.6" stroke="#1e1e1e" stroke-width="1.1" fill="none"/><path d="M313.8 534.2 H316.1" stroke="#1e1e1e" stroke-width="1"/><text transform="translate(312.7 537.5) scale(1 1.0)" font-size="8.3" font-style="normal" fill="#2c2c2c" stroke="#2c2c2c" stroke-width="0.15" text-anchor="end">0.0</text><path d="M314.6 521.9 H316.1" stroke="#1e1e1e" stroke-width="1"/><path d="M313.8 509.6 H316.1" stroke="#1e1e1e" stroke-width="1"/><text transform="translate(312.7 512.9) scale(1 1.0)" font-size="8.3" font-style="normal" fill="#2c2c2c" stroke="#2c2c2c" stroke-width="0.15" text-anchor="end">0.5</text><path d="M314.6 497.3 H316.1" stroke="#1e1e1e" stroke-width="1"/><path d="M313.8 485 H316.1" stroke="#1e1e1e" stroke-width="1"/><text transform="translate(312.7 488.3) scale(1 1.0)" font-size="8.3" font-style="normal" fill="#2c2c2c" stroke="#2c2c2c" stroke-width="0.15" text-anchor="end">1.0</text><path d="M314.6 472.7 H316.1" stroke="#1e1e1e" stroke-width="1"/><path d="M313.8 460.4 H316.1" stroke="#1e1e1e" stroke-width="1"/><text transform="translate(312.7 463.7) scale(1 1.0)" font-size="8.3" font-style="normal" fill="#2c2c2c" stroke="#2c2c2c" stroke-width="0.15" text-anchor="end">1.5</text><path d="M335.3 534.2 V536.4" stroke="#1e1e1e" stroke-width="1"/><text transform="translate(335.3 544.2) scale(1 1.02)" font-size="8.8" font-style="normal" fill="#2c2c2c" stroke="#2c2c2c" stroke-width="0.15" text-anchor="middle">+S</text><path d="M370.3 534.2 V536.4" stroke="#1e1e1e" stroke-width="1"/><text transform="translate(369.3 544.2) scale(1 1.02)" font-size="8.8" font-style="normal" fill="#2c2c2c" stroke="#2c2c2c" stroke-width="0.15" text-anchor="middle">−S</text></g>
</svg>
</body></html>
